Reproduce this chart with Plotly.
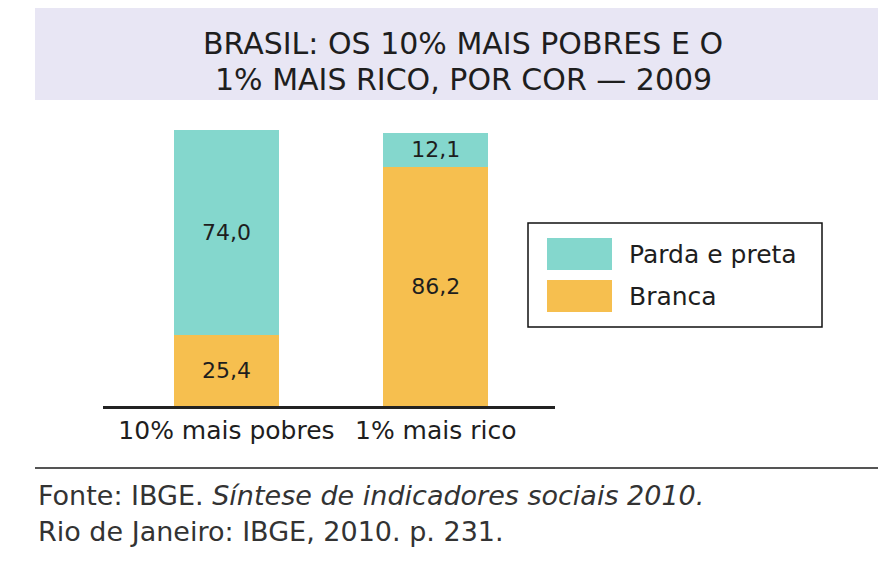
import plotly.graph_objects as go

# ---- data ----
categories = ["10% mais pobres", "1% mais rico"]
parda_preta = [74.0, 12.1]
branca = [25.4, 86.2]
series_names = ["Parda e preta", "Branca"]
title_lines = ["BRASIL: OS 10% MAIS POBRES E O", "1% MAIS RICO, POR COR \u2014 2009"]
source_line1 = "Fonte: IBGE. <i>Síntese de indicadores sociais 2010.</i>"
source_line2 = "Rio de Janeiro: IBGE, 2010. p. 231."

# ---- style ----
W, H = 886, 569
OFF = 8  # page body margin
TEAL = "#84d7cd"
ORANGE = "#f6bf4f"
BAND = "#e8e6f4"
TXT = "#1e1e1e"
FONT = "DejaVu Sans"


def px(x):
    return (x - OFF) / W


def py(y):
    return 1 - (y - OFF) / H


def fmt(v):
    return f"{v:.1f}".replace(".", ",")


fig = go.Figure()
fig.add_trace(go.Bar(
    x=categories, y=branca, name=series_names[1],
    marker=dict(color=ORANGE, line=dict(width=0)),
    text=[fmt(v) for v in branca], textposition="inside",
    insidetextanchor="middle", textangle=0,
    textfont=dict(family=FONT, size=22, color=TXT),
    width=0.5, showlegend=False,
))
fig.add_trace(go.Bar(
    x=categories, y=parda_preta, name=series_names[0],
    marker=dict(color=TEAL, line=dict(width=0)),
    text=[fmt(v) for v in parda_preta], textposition="inside",
    insidetextanchor="middle", textangle=0,
    textfont=dict(family=FONT, size=22, color=TXT),
    width=0.5, showlegend=False,
))

shapes = [
    # title band
    dict(type="rect", xref="paper", yref="paper", x0=px(35), x1=1,
         y0=py(100), y1=py(8), fillcolor=BAND, line=dict(width=0), layer="below"),
    # legend box
    dict(type="rect", xref="paper", yref="paper", x0=px(528), x1=px(822),
         y0=py(327), y1=py(223), fillcolor="white", line=dict(color="#111", width=1.5)),
    dict(type="rect", xref="paper", yref="paper", x0=px(547), x1=px(612),
         y0=py(270), y1=py(238), fillcolor=TEAL, line=dict(width=0)),
    dict(type="rect", xref="paper", yref="paper", x0=px(547), x1=px(612),
         y0=py(312), y1=py(280), fillcolor=ORANGE, line=dict(width=0)),
    # separator line
    dict(type="line", xref="paper", yref="paper", x0=px(35), x1=1,
         y0=py(468), y1=py(468), line=dict(color="#555", width=2)),
]

annotations = [
    dict(text=title_lines[0], x=px(463), y=py(43), xref="paper", yref="paper",
         showarrow=False, xanchor="center", yanchor="middle",
         font=dict(family=FONT, size=30, color=TXT)),
    dict(text=title_lines[1], x=px(463), y=py(80), xref="paper", yref="paper",
         showarrow=False, xanchor="center", yanchor="middle",
         font=dict(family=FONT, size=30, color=TXT)),
    dict(text=series_names[0], x=px(627), y=py(254), xref="paper", yref="paper",
         showarrow=False, xanchor="left", yanchor="middle",
         font=dict(family=FONT, size=25, color=TXT)),
    dict(text=series_names[1], x=px(627), y=py(296), xref="paper", yref="paper",
         showarrow=False, xanchor="left", yanchor="middle",
         font=dict(family=FONT, size=25, color=TXT)),
    dict(text=source_line1, x=px(36), y=py(495), xref="paper", yref="paper",
         showarrow=False, xanchor="left", yanchor="middle",
         font=dict(family=FONT, size=27, color="#333")),
    dict(text=source_line2, x=px(36), y=py(531), xref="paper", yref="paper",
         showarrow=False, xanchor="left", yanchor="middle",
         font=dict(family=FONT, size=27, color="#333")),
]

fig.update_layout(
    width=W, height=H,
    margin=dict(l=0, r=0, t=0, b=0),
    paper_bgcolor="white", plot_bgcolor="white",
    barmode="stack",
    showlegend=False,
    hovermode=False,
    shapes=shapes,
    annotations=annotations,
    xaxis=dict(
        domain=[px(103), px(555)],
        range=[-0.59, 1.57],
        showline=True, linecolor="#222", linewidth=3,
        showgrid=False, zeroline=False, ticks="",
        tickfont=dict(family=FONT, size=25, color=TXT),
        fixedrange=True,
    ),
    yaxis=dict(
        domain=[py(406), py(130)],
        range=[0, 99.4],
        visible=False, fixedrange=True,
    ),
)

fig.write_html("out.html")
